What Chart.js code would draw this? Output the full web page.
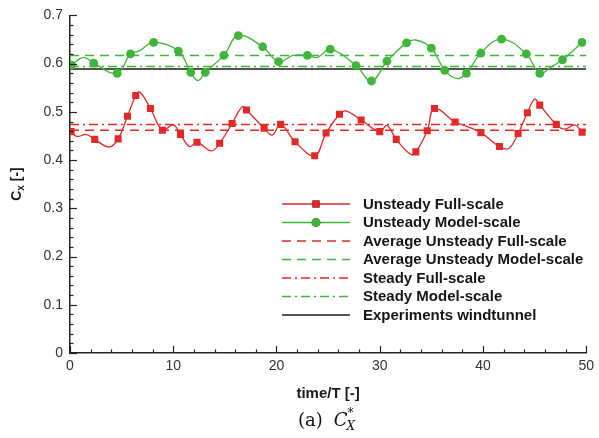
<!DOCTYPE html>
<html>
<head>
<meta charset="utf-8">
<script src="https://cdn.jsdelivr.net/npm/chart.js@4.4.0/dist/chart.umd.min.js"></script>
<style>
  html, body { margin: 0; padding: 0; background: #fff; }
  #wrap { width: 599px; height: 438px; }
</style>
</head>
<body>
<div id="wrap"><canvas id="cx"></canvas></div>
<script>
// Unsteady full-scale: marker samples + extra curve points between them
const fullMarkT = [0.1, 2.4, 4.66, 5.57, 6.37, 7.79, 8.95, 10.7, 12.3, 14.5, 15.7, 17.1, 18.8, 20.4, 21.8, 23.7, 24.8, 26.1, 28.2, 30.0, 31.6, 33.5, 34.6, 35.3, 37.3, 39.8, 41.6, 43.4, 44.3, 45.5, 47.1, 49.6];
const fullMarkCx = [0.459, 0.443, 0.444, 0.491, 0.534, 0.507, 0.462, 0.453, 0.437, 0.435, 0.476, 0.504, 0.466, 0.474, 0.438, 0.409, 0.456, 0.495, 0.483, 0.459, 0.443, 0.417, 0.461, 0.507, 0.479, 0.457, 0.428, 0.455, 0.498, 0.514, 0.474, 0.458];
const fullPathT = [0.65, 1.6, 3.8, 6.76, 10.0, 11.6, 13.7, 16.7, 19.6, 26.7, 30.7, 33.0, 38.4, 42.5, 45.0, 47.9, 48.9];
const fullPathCx = [0.449, 0.453, 0.427, 0.541, 0.473, 0.428, 0.419, 0.511, 0.452, 0.502, 0.472, 0.412, 0.470, 0.424, 0.526, 0.464, 0.473];

// Unsteady model-scale
const modelMarkT = [0.15, 2.3, 4.57, 5.86, 8.1, 10.5, 11.7, 13.1, 14.9, 16.3, 18.66, 20.2, 23.0, 25.2, 27.7, 29.2, 30.7, 32.6, 35.0, 36.3, 38.4, 39.8, 41.8, 44.2, 45.5, 47.7, 49.6];
const modelMarkCx = [0.597, 0.601, 0.580, 0.620, 0.644, 0.626, 0.582, 0.582, 0.617, 0.658, 0.635, 0.604, 0.617, 0.630, 0.596, 0.564, 0.605, 0.643, 0.632, 0.586, 0.580, 0.622, 0.651, 0.620, 0.580, 0.608, 0.644];
const modelPathT = [1.3, 6.76, 12.4, 21.6, 24.0, 33.5, 37.5, 46.6];
const modelPathCx = [0.613, 0.627, 0.565, 0.617, 0.613, 0.649, 0.569, 0.593];

// constant levels
const avgFullCx = 0.462;
const avgModelCx = 0.617;
const steadyFullCx = 0.474;
const steadyModelCx = 0.594;
const windtunnelCx = 0.589;

const timeRange = [0, 50];
const xTicks = [0, 10, 20, 30, 40, 50];

const RED = "#e02a2a";
const GREEN = "#3fb53a";
const SANS = "'Liberation Sans', Arial, sans-serif";

function toPoints(ts, vs) {
  return ts.map((t, i) => ({ x: t, y: vs[i] }));
}
function mergePath(mt, mv, pt, pv) {
  return toPoints(mt, mv).concat(toPoints(pt, pv)).sort((a, b) => a.x - b.x);
}
function level(v) {
  return timeRange.map((t) => ({ x: t, y: v }));
}

const datasets = [
  {
    label: "Unsteady Full-scale",
    data: mergePath(fullMarkT, fullMarkCx, fullPathT, fullPathCx),
    borderColor: RED, borderWidth: 1.3, pointRadius: 0, tension: 0.4,
    legendMarker: { style: "rect", radius: 5, color: RED },
  },
  {
    label: "_fullMarks",
    data: toPoints(fullMarkT, fullMarkCx),
    showLine: false, pointStyle: "rect", pointRadius: 5,
    backgroundColor: RED, borderColor: RED, borderWidth: 0,
  },
  {
    label: "Unsteady Model-scale",
    data: mergePath(modelMarkT, modelMarkCx, modelPathT, modelPathCx),
    borderColor: GREEN, borderWidth: 1.3, pointRadius: 0, tension: 0.4,
    legendMarker: { style: "circle", radius: 4.4, color: GREEN },
  },
  {
    label: "_modelMarks",
    data: toPoints(modelMarkT, modelMarkCx),
    showLine: false, pointStyle: "circle", pointRadius: 4.4,
    backgroundColor: GREEN, borderColor: GREEN, borderWidth: 0,
  },
  {
    label: "Average Unsteady Full-scale",
    data: level(avgFullCx),
    borderColor: RED, borderWidth: 1.5, borderDash: [9, 6], pointRadius: 0,
  },
  {
    label: "Average Unsteady Model-scale",
    data: level(avgModelCx),
    borderColor: GREEN, borderWidth: 1.5, borderDash: [9, 6], pointRadius: 0,
  },
  {
    label: "Steady Full-scale",
    data: level(steadyFullCx),
    borderColor: RED, borderWidth: 1.5, borderDash: [9, 4, 2, 4], pointRadius: 0,
  },
  {
    label: "Steady Model-scale",
    data: level(steadyModelCx),
    borderColor: GREEN, borderWidth: 1.5, borderDash: [9, 4, 2, 4], pointRadius: 0,
  },
  {
    label: "Experiments windtunnel",
    data: level(windtunnelCx),
    borderColor: "#1a1a1a", borderWidth: 1.5, pointRadius: 0,
  },
];

// inward tick marks, legend, axis titles and caption
const decorations = {
  id: "decorations",
  afterDraw(chart) {
    const { ctx, chartArea: a } = chart;
    const x = chart.scales.x, y = chart.scales.y;
    ctx.save();
    ctx.strokeStyle = "#222";
    ctx.lineWidth = 1.2;
    for (let t = timeRange[0]; t <= timeRange[1]; t += 2) {
      const px = Math.round(x.getPixelForValue(t)) + 0.5;
      const len = t % 10 === 0 ? 7 : 3.5;
      ctx.beginPath(); ctx.moveTo(px, a.bottom); ctx.lineTo(px, a.bottom - len); ctx.stroke();
    }
    for (let i = 0; i <= 35; i++) {
      const py = Math.round(y.getPixelForValue(i * 0.02)) + 0.5;
      const len = i % 5 === 0 ? 7 : 3.5;
      ctx.beginPath(); ctx.moveTo(a.left, py); ctx.lineTo(a.left + len, py); ctx.stroke();
    }

    // legend
    const lx0 = 282, lx1 = 350, tx = 363;
    let ly = 204;
    ctx.textBaseline = "middle";
    ctx.textAlign = "left";
    chart.data.datasets.forEach((ds) => {
      if (ds.label.startsWith("_")) return;
      ctx.strokeStyle = ds.borderColor;
      ctx.lineWidth = ds.borderWidth;
      ctx.setLineDash(ds.borderDash || []);
      ctx.beginPath(); ctx.moveTo(lx0, ly); ctx.lineTo(lx1, ly); ctx.stroke();
      ctx.setLineDash([]);
      if (ds.legendMarker) {
        const m = ds.legendMarker;
        Chart.helpers.drawPoint(ctx, { pointStyle: m.style, radius: m.radius, borderWidth: 0, rotation: 0 }, (lx0 + lx1) / 2, ly);
        ctx.fillStyle = m.color;
        ctx.fill();
      }
      ctx.fillStyle = "#161616";
      ctx.font = "bold 15px " + SANS;
      ctx.fillText(ds.label, tx, ly + 0.5);
      ly += 18.5;
    });

    // axis titles
    ctx.fillStyle = "#1a1a1a";
    ctx.textAlign = "center";
    ctx.font = "bold 15px " + SANS;
    ctx.fillText("time/T [-]", (a.left + a.right) / 2, 394);

    ctx.save();
    ctx.translate(17, 184);
    ctx.rotate(-Math.PI / 2);
    ctx.textAlign = "left";
    const f1 = "bold 14px " + SANS;
    const f2 = "bold 10px " + SANS;
    ctx.font = f1; const wC = ctx.measureText("C").width;
    ctx.font = f2; const wx = ctx.measureText("x").width;
    ctx.font = f1; const wr = ctx.measureText(" [-]").width;
    let sx = -(wC + wx + wr) / 2;
    ctx.font = f1; ctx.fillText("C", sx, 0); sx += wC;
    ctx.font = f2; ctx.fillText("x", sx, 4); sx += wx;
    ctx.font = f1; ctx.fillText(" [-]", sx, 0);
    ctx.restore();

    // caption
    ctx.fillStyle = "#111";
    ctx.textAlign = "left";
    ctx.textBaseline = "alphabetic";
    const cf = "18px 'DejaVu Serif', 'Liberation Serif', serif";
    const ci = "italic 18px 'DejaVu Serif', 'Liberation Serif', serif";
    const cs = "italic 12px 'DejaVu Serif', 'Liberation Serif', serif";
    let cx = 298;
    const base = 426;
    ctx.font = cf; ctx.fillText("(a)", cx, base); cx += ctx.measureText("(a)").width + 11;
    ctx.font = ci; ctx.fillText("C", cx, base); cx += ctx.measureText("C").width;
    ctx.font = "12px 'DejaVu Serif', serif"; ctx.fillText("*", cx, base - 9);
    ctx.font = cs; ctx.fillText("X", cx - 1, base + 4);
    ctx.restore();
  },
};

new Chart(document.getElementById("cx"), {
  type: "line",
  data: { datasets: datasets },
  options: {
    responsive: true,
    maintainAspectRatio: false,
    animation: false,
    layout: { padding: { top: 12, right: 11, left: 0, bottom: 0 } },
    plugins: { legend: { display: false }, tooltip: { enabled: false } },
    scales: {
      x: {
        type: "linear",
        min: timeRange[0],
        max: timeRange[1],
        afterFit: (s) => { s.height = 85; },
        afterBuildTicks: (s) => { s.ticks = xTicks.map((v) => ({ value: v })); },
        grid: { display: false, drawTicks: false },
        border: { display: true, color: "#222", width: 1.5 },
        ticks: { padding: 5, color: "#333", font: { family: SANS, size: 14 }, maxRotation: 0 },
      },
      y: {
        min: 0,
        max: 0.7,
        afterFit: (s) => { s.width = 70; },
        grid: { display: false, drawTicks: false },
        border: { display: true, color: "#222", width: 1.5 },
        ticks: { stepSize: 0.1, padding: 7, color: "#333", font: { family: SANS, size: 14 } },
      },
    },
  },
  plugins: [decorations],
});
</script>
</body>
</html>
